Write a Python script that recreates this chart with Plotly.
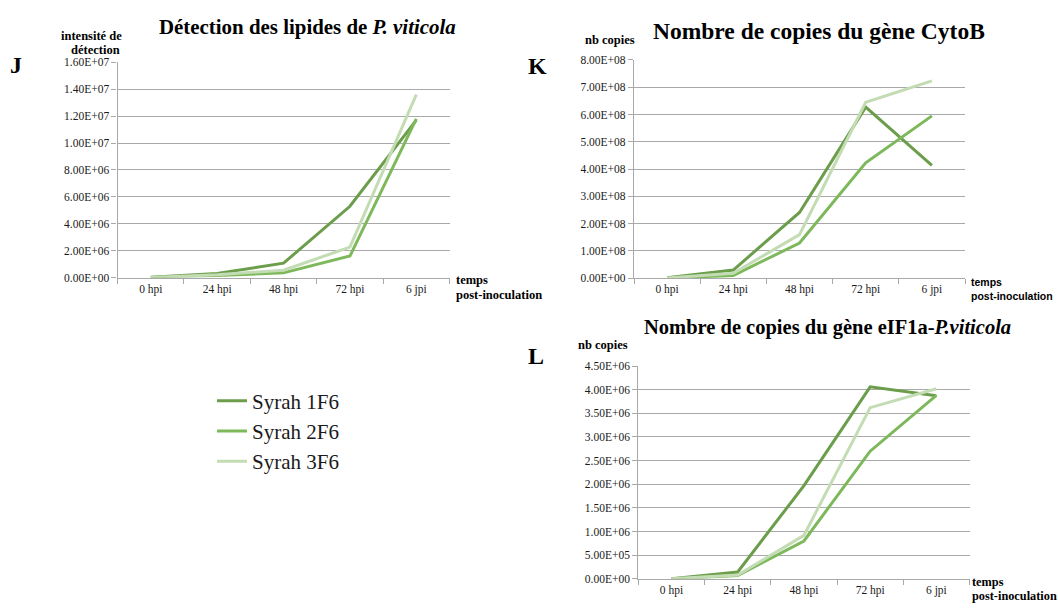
import plotly.graph_objects as go

# Time points (categories) shared by the three panels
categories = ["0 hpi", "24 hpi", "48 hpi", "72 hpi", "6 jpi"]
series_names = ["Syrah 1F6", "Syrah 2F6", "Syrah 3F6"]
series_colors = ["#6b9d4b", "#7db85b", "#c3dcb4"]

# Panel J: lipid detection intensity
lipid_1f6 = [0.02e6, 0.30e6, 1.07e6, 5.30e6, 11.7e6]
lipid_2f6 = [0.01e6, 0.15e6, 0.35e6, 1.60e6, 11.8e6]
lipid_3f6 = [0.01e6, 0.20e6, 0.55e6, 2.26e6, 13.6e6]
lipid_ticks = [0, 2e6, 4e6, 6e6, 8e6, 10e6, 12e6, 14e6, 16e6]

# Panel K: CytoB copy number
cytob_1f6 = [0.02e8, 0.30e8, 2.41e8, 6.27e8, 4.14e8]
cytob_2f6 = [0.01e8, 0.10e8, 1.29e8, 4.23e8, 5.95e8]
cytob_3f6 = [0.01e8, 0.18e8, 1.60e8, 6.45e8, 7.23e8]
cytob_ticks = [0, 1e8, 2e8, 3e8, 4e8, 5e8, 6e8, 7e8, 8e8]

# Panel L: eIF1a copy number
eif_1f6 = [0.0e6, 0.145e6, 1.97e6, 4.06e6, 3.87e6]
eif_2f6 = [0.0e6, 0.07e6, 0.80e6, 2.70e6, 3.88e6]
eif_3f6 = [0.0e6, 0.08e6, 0.92e6, 3.62e6, 4.02e6]
eif_ticks = [0, 0.5e6, 1e6, 1.5e6, 2e6, 2.5e6, 3e6, 3.5e6, 4e6, 4.5e6]

W, H = 1058, 610
SERIF = "Liberation Serif"
SANS = "Liberation Sans"
GRID = "#a9a9a9"
TXT = "#1a1a1a"


def px_x(v):
    return v / W


def px_y(v):
    return 1 - v / H


fig = go.Figure()

panels = [
    ("x", "y", [lipid_1f6, lipid_2f6, lipid_3f6]),
    ("x2", "y2", [cytob_1f6, cytob_2f6, cytob_3f6]),
    ("x3", "y3", [eif_1f6, eif_2f6, eif_3f6]),
]
for p, (xa, ya, data) in enumerate(panels):
    for name, color, vals in zip(series_names, series_colors, data):
        fig.add_trace(go.Scatter(
            x=categories, y=vals, mode="lines", name=name,
            line=dict(color=color, width=3),
            xaxis=xa, yaxis=ya, showlegend=(p == 0),
        ))


def xaxis_cfg(domain, anchor):
    return dict(
        domain=domain, anchor=anchor, type="category",
        range=[-0.5, 4.5], tickson="boundaries", ticks="outside",
        ticklen=5, tickcolor=GRID, showline=True, linecolor=GRID,
        linewidth=1.3, showgrid=False, zeroline=False,
        tickfont=dict(family=SERIF, size=11.5, color=TXT),
    )


def yaxis_cfg(domain, anchor, ticks):
    return dict(
        domain=domain, anchor=anchor, range=[0, ticks[-1]],
        tickvals=ticks, ticktext=[f"{v:.2E}" for v in ticks],
        ticks="outside", ticklen=5, tickcolor=GRID,
        showline=True, linecolor=GRID, linewidth=1.3,
        showgrid=True, gridcolor=GRID, gridwidth=1.3, zeroline=False,
        tickfont=dict(family=SERIF, size=11.5, color=TXT),
    )


fig.update_layout(
    width=W, height=H,
    margin=dict(l=0, r=0, t=0, b=0),
    paper_bgcolor="white", plot_bgcolor="white",
    font=dict(family=SERIF, color=TXT),
    xaxis=xaxis_cfg([px_x(117.6), px_x(449.5)], "y"),
    yaxis=yaxis_cfg([px_y(277), px_y(57.5)], "x", lipid_ticks),
    xaxis2=xaxis_cfg([px_x(634), px_x(965)], "y2"),
    yaxis2=yaxis_cfg([px_y(277.7), px_y(55)], "x2", cytob_ticks),
    xaxis3=xaxis_cfg([px_x(638.4), px_x(969.5)], "y3"),
    yaxis3=yaxis_cfg([px_y(584.3), px_y(367.3)], "x3", eif_ticks),
    legend=dict(
        x=px_x(212), y=px_y(382), xanchor="left", yanchor="top",
        font=dict(family=SERIF, size=21, color=TXT),
        bgcolor="rgba(0,0,0,0)", tracegroupgap=0,
    ),
)


def note(text, x, y, size, family=SERIF, xanchor="left", yanchor="middle", align="left"):
    fig.add_annotation(
        text=text, x=px_x(x), y=px_y(y), xref="paper", yref="paper",
        showarrow=False, xanchor=xanchor, yanchor=yanchor, align=align,
        font=dict(family=family, size=size, color="#000000"),
    )


# Panel titles
note("<b>Détection des lipides de <i>P. viticola</i></b>", 307, 21, 20.9, xanchor="center")
note("<b>Nombre de copies du gène CytoB</b>", 819, 25, 23.5, xanchor="center")
note("<b>Nombre de copies du gène eIF1a-<i>P.viticola</i></b>", 827, 328, 20.5, xanchor="center")

# Panel letters
note("<b>J</b>", 8, 60, 24)
note("<b>K</b>", 526, 61, 24)
note("<b>L</b>", 526, 357, 24)

# Y-axis titles (one line per annotation for tight spacing)
note("<b>intensité de</b>", 124, 31, 12.5, xanchor="right")
note("<b>détection</b>", 122, 45, 12.5, xanchor="right")
note("<b>nb copies</b>", 637, 35, 12.5, xanchor="right")
note("<b>nb copies</b>", 630, 346, 12.5, xanchor="right")

# X-axis titles
note("<b>temps</b>", 454, 279, 12.5)
note("<b>post-inoculation</b>", 454, 295, 12.5)
note("<b>temps</b>", 969, 282, 10.5, family=SANS)
note("<b>post-inoculation</b>", 969, 295.5, 10.5, family=SANS)
note("<b>temps</b>", 970, 587.5, 12.3)
note("<b>post-inoculation</b>", 970, 602, 12.3)

fig.write_html("out.html")
